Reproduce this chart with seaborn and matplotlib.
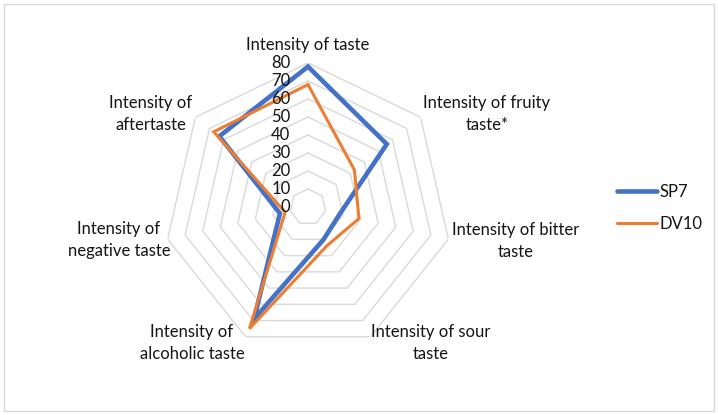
import numpy as np
import pandas as pd
import matplotlib
matplotlib.use("Agg")
import matplotlib.pyplot as plt
import matplotlib.transforms as mtransforms
from matplotlib.patches import Rectangle
import seaborn as sns

# ---------------- data ----------------
categories = [
    "Intensity of taste",
    "Intensity of fruity\ntaste*",
    "Intensity of bitter\ntaste",
    "Intensity of sour\ntaste",
    "Intensity of\nalcoholic taste",
    "Intensity of\nnegative taste",
    "Intensity of\naftertaste",
]
sp7 = [78, 56, 18, 20, 69, 16, 63]
dv10 = [68, 33, 29, 24, 75, 13, 67]
series_names = ["SP7", "DV10"]
radial_ticks = [0, 10, 20, 30, 40, 50, 60, 70, 80]

# ---------------- style ----------------
sns.set_theme(style="white")
plt.rcParams["font.family"] = ["Lato", "DejaVu Sans"]
plt.rcParams["lines.solid_joinstyle"] = "miter"
TEXT = "#141414"
GRID = "#d9d9d9"
palette = {"SP7": "#4472C4", "DV10": "#ED7D31"}
widths = {"SP7": 3.3, "DV10": 2.2}

W, H = 718, 415
fig = plt.figure(figsize=(W / 100, H / 100), dpi=100)

# chart frame
fig.patches.append(Rectangle((4 / W, 4 / H), (W - 8) / W, (H - 8) / H,
                             transform=fig.transFigure, fill=False,
                             edgecolor=GRID, linewidth=1.0))

# polar axes: centre (308, 207) px, radius 144 px for value 80
cx, cy, R = 308, 207, 144
ax = fig.add_axes([(cx - R) / W, (H - cy - R) / H, 2 * R / W, 2 * R / H],
                  projection="polar")
ax.set_theta_zero_location("N")
ax.set_theta_direction(-1)
ax.set_ylim(0, 80)
ax.set_axis_off()

n = len(categories)
theta = np.linspace(0, 2 * np.pi, n, endpoint=False)
theta_closed = np.append(theta, 2 * np.pi)

# polygon grid rings
for r in radial_ticks[1:]:
    ax.plot(theta_closed, [r] * (n + 1), color=GRID, linewidth=1.0, zorder=1)

# data
rows = []
for name, vals in zip(series_names, [sp7, dv10]):
    closed = list(vals) + [vals[0]]
    for order, (t, v) in enumerate(zip(theta_closed, closed)):
        rows.append({"series": name, "theta": t, "value": v, "order": order})
df = pd.DataFrame(rows)

sns.lineplot(data=df, x="theta", y="value", hue="series", size="series",
             sizes=widths, palette=palette, hue_order=series_names,
             size_order=series_names, sort=False, estimator=None,
             ax=ax, zorder=3)

# font size fitted so "Intensity of taste" is ~124 px wide (Calibri-like height)
probe = fig.text(0, 0, "Intensity of taste", fontsize=10)
fig.canvas.draw()
w10 = probe.get_window_extent().width
probe.remove()
fs = 10 * 124 / w10

# radial value labels
off = mtransforms.offset_copy(ax.transData, fig=fig, x=-17.5, y=0, units="dots")
for r in radial_ticks:
    ax.text(0, r, str(r), transform=off, ha="right", va="center",
            fontsize=fs, color=TEXT, zorder=4)

# category labels (pixel centres)
label_pos = [(308, 45), (487, 114), (516, 241), (431, 343),
             (192, 343), (119, 240), (151, 114)]
for lab, (px, py) in zip(categories, label_pos):
    fig.text(px / W, 1 - py / H, lab, ha="center", va="center",
             fontsize=fs, color=TEXT, linespacing=1.45, multialignment="center")

# legend
handles, labels = ax.get_legend_handles_labels()
leg = ax.legend(handles, labels, loc="center left",
                bbox_to_anchor=(617 / W, 1 - 208 / H),
                bbox_transform=fig.transFigure, frameon=False,
                fontsize=fs, handlelength=2.4, handletextpad=0.15,
                labelspacing=0.95, borderpad=0, borderaxespad=0)
for t in leg.get_texts():
    t.set_color(TEXT)

fig.savefig("out.png", dpi=100)
